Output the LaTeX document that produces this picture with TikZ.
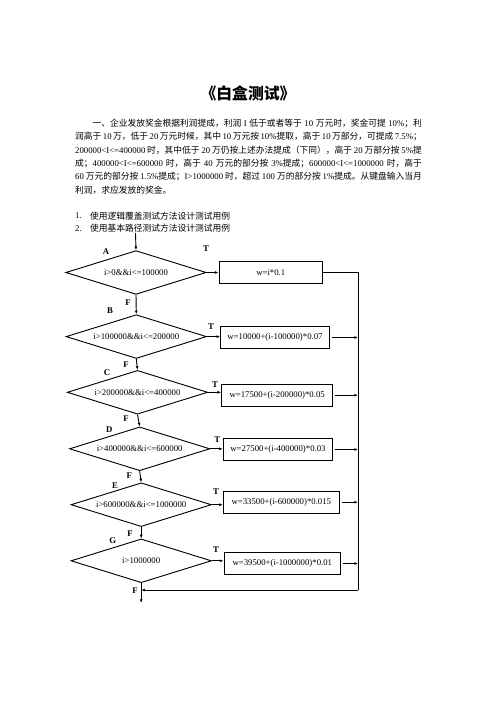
\documentclass[tikz,border=0pt]{standalone}
\usepackage{fontspec}
\setmainfont{Liberation Serif}
\newfontfamily\cjk{Noto Sans CJK SC}
\usetikzlibrary{shapes.geometric}
\usetikzlibrary{arrows.meta}
\XeTeXlinebreaklocale "zh"
\XeTeXlinebreakskip=0pt plus 1pt
\newcommand{\en}[1]{{\rmfamily #1}}
\newcommand{\parline}[1]{\makebox[416pt][s]{#1}}
\tikzset{
  para/.style={anchor=west,inner sep=0pt,font=\cjk\fontsize{10.5}{12}\selectfont},
  test/.style={diamond,draw,line width=1.1pt,aspect=3.2,inner sep=0pt,minimum width=168.5pt,minimum height=52.5pt,font=\fontsize{10.5}{12}\selectfont},
  calc/.style={rectangle,draw,line width=1.1pt,minimum height=26pt,inner sep=1pt,font=\fontsize{10.5}{12}\selectfont},
  lbl/.style={font=\bfseries\fontsize{10.5}{12}\selectfont,inner sep=0pt},
  arr/.style={line width=1.1pt,-{Latex[length=4.5pt,width=3.5pt]}},
  wire/.style={line width=1.1pt}
}
\begin{document}
\begin{tikzpicture}[x=1.2pt,y=-1.2pt]
\useasboundingbox (0,0) rectangle (496,702);
% title and task text
\node[font=\cjk\bfseries\fontsize{19}{21}\selectfont,inner sep=0pt] (title) at (248,93) {《白盒测试》};
\node[para] (l1) at (75,123.3) {\parline{\hspace*{2em}一、企业发放奖金根据利润提成，利润\en{ I }低于或者等于\en{ 10 }万元时，奖金可提\en{ 10\%}；利}};
\node[para] (l2) at (75,136.7) {\parline{润高于\en{ 10 }万，低于\en{ 20 }万元时候，其中\en{ 10 }万元按\en{ 10\%}提取，高于\en{ 10 }万部分，可提成\en{ 7.5\%}；}};
\node[para] (l3) at (75,150) {\parline{\en{200000<I<=400000 }时，其中低于\en{ 20 }万仍按上述办法提成（下同），高于\en{ 20 }万部分按\en{ 5\%}提}};
\node[para] (l4) at (75,163.3) {\parline{成；\en{400000<I<=600000 }时，高于\en{ 40 }万元的部分按\en{ 3\%}提成；\en{600000<I<=1000000 }时，高于}};
\node[para] (l5) at (75,176.7) {\parline{\en{60 }万元的部分按\en{ 1.5\%}提成；\en{I>1000000 }时，超过\en{ 100 }万的部分按\en{ 1\%}提成。从键盘输入当月}};
\node[para] (l6) at (75,190) {利润，求应发放的奖金。};
\node[para] (n1) at (75,215.7) {\en{1.}};
\node[para] (q1) at (90,215.7) {使用逻辑覆盖测试方法设计测试用例};
\node[para] (n2) at (75,228.3) {\en{2.}};
\node[para] (q2) at (90,228.3) {使用基本路径测试方法设计测试用例};

% decisions
\node[test] (dA) at (136,272.5) {i>0\&\&i<=100000};
\node[test] (dB) at (136.3,336.6) {i>100000\&\&i<=200000};
\node[test] (dC) at (137.5,392.3) {i>200000\&\&i<=400000};
\node[test] (dD) at (139.7,448.8) {i>400000\&\&i<=600000};
\node[test] (dE) at (141.2,504.7) {i>600000\&\&i<=1000000};
\node[test] (dG) at (141.2,560.8) {i>1000000};

% assignments
\node[calc,minimum width=124.4pt] (bA) at (270.8,272.5) {w=i*0.1};
\node[calc,minimum width=130.3pt] (bB) at (275,337.5) {w=10000+(i-100000)*0.07};
\node[calc,minimum width=133.2pt] (bC) at (277.2,395.2) {w=17500+(i-200000)*0.05};
\node[calc,minimum width=131.3pt] (bD) at (278,449.5) {w=27500+(i-400000)*0.03};
\node[calc,minimum width=139.2pt] (bE) at (281.3,502.2) {w=33500+(i-600000)*0.015};
\node[calc,minimum width=140pt] (bG) at (282.3,563.5) {w=39500+(i-1000000)*0.01};

% labels
\node[lbl] (pA) at (106,251.7) {A};
\node[lbl] (pB) at (110,311) {B};
\node[lbl] (pC) at (107,373) {C};
\node[lbl] (pD) at (109.3,429.3) {D};
\node[lbl] (pE) at (115,485.7) {E};
\node[lbl] (pG) at (112.7,540.7) {G};
\node[lbl] (tA) at (206,249) {T};
\node[lbl] (tB) at (211,326.7) {T};
\node[lbl] (tC) at (215,385) {T};
\node[lbl] (tD) at (217.3,440) {T};
\node[lbl] (tE) at (216,491.7) {T};
\node[lbl] (tG) at (216,549.3) {T};
\node[lbl] (fA) at (128,302.7) {F};
\node[lbl] (fB) at (126,365) {F};
\node[lbl] (fC) at (126,419) {F};
\node[lbl] (fD) at (129.3,476) {F};
\node[lbl] (fE) at (130,534) {F};
\node[lbl] (fG) at (135,591) {F};

% flow
\coordinate (start) at (135.5,233);
\coordinate (busTop) at (358,272.5);
\coordinate (busBot) at (358,590);
\coordinate (exit) at (141.2,603);
\draw[arr] (start) -- (dA.north);
\draw[arr] (dA.south) -- (dB.north);
\draw[arr] (dB.south) -- (dC.north);
\draw[arr] (dC.south) -- (dD.north);
\draw[arr] (dD.south) -- (dE.north);
\draw[arr] (dE.south) -- (dG.north);
\draw[arr] (dG.south) -- (exit);
\foreach \k in {A,B,C,D,E,G}
  \draw[arr] (d\k.east) -- (d\k.east -| b\k.west);
\foreach \k in {B,C,D,E,G}
  \draw[arr,shorten <=2.5pt] (b\k.east) -- (b\k.east -| busTop);
\draw[wire] (bA.east) -- (busTop) -- (busBot);
\draw[arr] (busBot) -- (busBot -| dG.south);

\end{tikzpicture}
\end{document}
